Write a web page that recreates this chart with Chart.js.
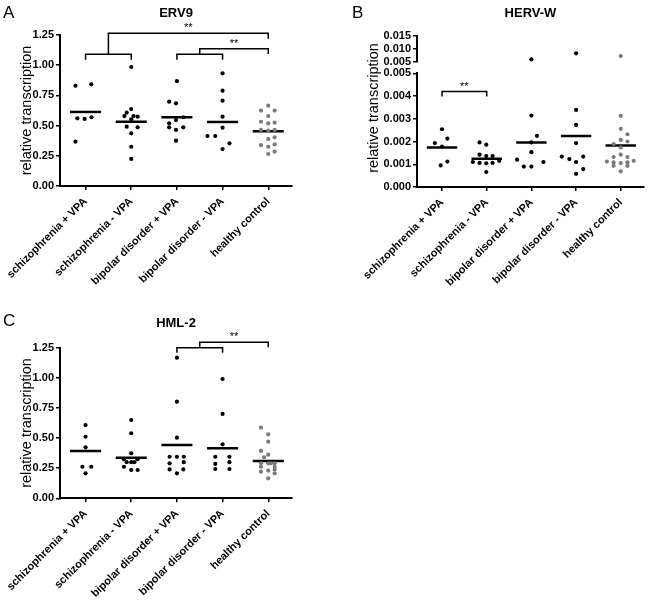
<!DOCTYPE html>
<html>
<head>
<meta charset="utf-8">
<script src="https://cdn.jsdelivr.net/npm/chart.js@4.4.0/dist/chart.umd.min.js"></script>
<style>
  body { margin: 0; background: #fff; }
  #wrap { position: relative; width: 648px; height: 604px; font-family: 'Liberation Sans', Arial, sans-serif; }
  canvas { position: absolute; }
  .letter { position: absolute; font-size: 17px; color: #000; }
</style>
</head>
<body>
<div id="wrap">
  <canvas id="chart-a" width="320" height="300" style="left:0;top:0"></canvas>
  <canvas id="chart-b" width="318" height="300" style="left:330px;top:0"></canvas>
  <canvas id="chart-c" width="320" height="300" style="left:0;top:304px"></canvas>
  <div class="letter" style="left:3px;top:3px">A</div>
  <div class="letter" style="left:352px;top:3px">B</div>
  <div class="letter" style="left:3px;top:311px">C</div>
</div>
<script>
const categories = ['schizophrenia + VPA', 'schizophrenia - VPA', 'bipolar disorder + VPA', 'bipolar disorder - VPA', 'healthy control'];
const controlIndex = 4;

// panel A - ERV9
const erv9Values = [
  [0.830, 0.842, 0.560, 0.555, 0.569, 0.367],
  [0.985, 0.637, 0.607, 0.579, 0.579, 0.574, 0.552, 0.491, 0.486, 0.436, 0.325, 0.224],
  [0.868, 0.698, 0.684, 0.569, 0.546, 0.519, 0.486, 0.486, 0.464, 0.375],
  [0.933, 0.789, 0.706, 0.574, 0.483, 0.414, 0.414, 0.353, 0.306],
  [0.665, 0.624, 0.624, 0.579, 0.532, 0.519, 0.524, 0.464, 0.458, 0.464, 0.389, 0.403, 0.339, 0.325, 0.345, 0.284, 0.265]
];
const erv9Jitter = [
  [-0.22, 0.125, -0.18, -0.02, 0.13, -0.22],
  [0, 0, -0.1, -0.15, 0.05, 0.14, 0, -0.1, 0.14, 0, 0, 0],
  [0, -0.17, -0.02, 0.14, -0.02, -0.17, -0.17, 0.14, -0.02, -0.02],
  [0, 0, 0, 0, 0, -0.33, -0.16, 0.15, 0],
  [0, -0.16, 0.14, 0, -0.16, 0, 0.14, -0.16, 0, 0.14, 0, 0.14, -0.16, 0, 0.14, 0.14, 0]
];
const erv9Means = [0.613, 0.532, 0.569, 0.530, 0.453];
const erv9Ticks = [0, 0.25, 0.5, 0.75, 1.0, 1.25];
const erv9Tests = [
  {left: [0, 1], right: 4, inner: 1.09, outer: 1.264, label: '**'},
  {left: [2, 3], right: 4, inner: 1.09, outer: 1.137, label: '**'}
];

// panel B - HERV-W (axis broken at 0.005)
const hervValues = [
  [0.00254, 0.00193, 0.00213, 0.00178, 0.00112, 0.00095],
  [0.00196, 0.00186, 0.00142, 0.00136, 0.00136, 0.00110, 0.00106, 0.00104, 0.00106, 0.00115, 0.00066],
  [0.00603, 0.00314, 0.00225, 0.00196, 0.00153, 0.00120, 0.00110, 0.00090, 0.00090],
  [0.0083, 0.00339, 0.00273, 0.00193, 0.00134, 0.00123, 0.00134, 0.00110, 0.00079, 0.00058],
  [0.00728, 0.00313, 0.00256, 0.00232, 0.00207, 0.00200, 0.00189, 0.00174, 0.00142, 0.00132, 0.00132, 0.00112, 0.00108, 0.00105, 0.00108, 0.00115, 0.00093, 0.00093, 0.00069]
];
const hervJitter = [
  [0, -0.16, 0.12, 0, 0.12, -0.03],
  [-0.16, -0.01, -0.16, -0.01, 0.13, -0.31, -0.16, -0.01, 0.13, 0.28, -0.01],
  [0, 0, 0.125, 0, 0, -0.32, 0.27, -0.17, 0],
  [0, 0, 0, 0, -0.32, -0.15, 0.16, 0, 0.16, 0],
  [0, 0, 0, 0.15, 0, 0.15, -0.16, 0, 0, -0.16, 0.15, -0.31, -0.16, 0, 0.15, 0.29, -0.16, 0.15, 0]
];
const hervMeans = [0.00174, 0.00124, 0.00196, 0.00224, 0.00182];
const hervTicks = [0, 0.001, 0.002, 0.003, 0.004, 0.005];
const hervTopTicks = [0.005, 0.010, 0.015];
const hervTests = [
  {left: [0], right: 1, outer: 0.0042, label: '**'}
];

// panel C - HML-2
const hml2Values = [
  [0.608, 0.511, 0.423, 0.262, 0.262, 0.207],
  [0.65, 0.54, 0.374, 0.324, 0.324, 0.30, 0.30, 0.30, 0.262, 0.235, 0.235],
  [1.167, 0.802, 0.503, 0.345, 0.345, 0.345, 0.29, 0.30, 0.24, 0.24, 0.207],
  [0.99, 0.70, 0.448, 0.345, 0.345, 0.30, 0.285, 0.243, 0.243],
  [0.586, 0.531, 0.47, 0.393, 0.362, 0.34, 0.29, 0.29, 0.29, 0.29, 0.262, 0.262, 0.221, 0.229, 0.24, 0.207, 0.166]
];
const hml2Jitter = [
  [0, 0, 0, -0.07, 0.125, 0],
  [0, 0, 0, -0.16, 0.14, -0.1, 0, 0.07, -0.16, 0, 0.14],
  [0, 0, 0, -0.16, 0, 0.15, -0.16, 0.15, -0.16, 0.14, 0],
  [0, 0, 0, -0.16, 0.15, 0.15, -0.16, -0.16, 0.15],
  [-0.16, 0, 0, -0.16, 0, -0.09, -0.16, 0, 0.06, 0.14, -0.16, 0.14, -0.16, 0, 0.14, 0.14, 0]
];
const hml2Means = [0.393, 0.337, 0.443, 0.415, 0.31];
const hml2Ticks = [0, 0.25, 0.5, 0.75, 1.0, 1.25];
const hml2Tests = [
  {left: [2, 3], right: 4, inner: 1.25, outer: 1.295, label: '**'}
];

const FONT = "'Liberation Sans', Arial, sans-serif";
Chart.defaults.font.family = FONT;
Chart.defaults.color = '#000';

// brackets of the significance tests, in data units
function bracketLines(tests, drop) {
  let sets = [];
  tests.forEach(function(t) {
    let start;
    if (t.left.length === 2) {
      let a = t.left[0], b = t.left[1];
      sets.push([{x: a, y: t.inner - drop}, {x: a, y: t.inner}, {x: b, y: t.inner}, {x: b, y: t.inner - drop}]);
      start = [{x: (a + b) / 2, y: t.inner}, {x: (a + b) / 2, y: t.outer}];
    } else {
      start = [{x: t.left[0], y: t.outer - drop}, {x: t.left[0], y: t.outer}];
    }
    sets.push(start.concat([{x: t.right, y: t.outer}, {x: t.right, y: t.outer - drop}]));
  });
  return sets;
}

// draws the ** of each test above its bracket
const starsPlugin = {
  id: 'stars',
  afterDatasetsDraw(chart, args, opts) {
    let ctx = chart.ctx;
    ctx.save();
    ctx.font = '11px ' + FONT;
    ctx.fillStyle = '#000';
    ctx.textAlign = 'center';
    ctx.textBaseline = 'middle';
    (opts.tests || []).forEach(function(t) {
      let from = t.left.length === 2 ? (t.left[0] + t.left[1]) / 2 : t.left[0];
      let x = chart.scales.x.getPixelForValue((from + t.right) / 2);
      let y = chart.scales.y.getPixelForValue(t.outer) - opts.lift;
      ctx.fillText(t.label, x, y);
    });
    ctx.restore();
  }
};

// y title spanning both halves of a broken axis
const spanTitlePlugin = {
  id: 'spanTitle',
  afterDraw(chart, args, opts) {
    if (!opts.text) return;
    let ctx = chart.ctx;
    ctx.save();
    ctx.translate(opts.x, opts.y);
    ctx.rotate(-Math.PI / 2);
    ctx.font = '14.5px ' + FONT;
    ctx.fillStyle = '#000';
    ctx.textAlign = 'center';
    ctx.textBaseline = 'middle';
    ctx.fillText(opts.text, 0, 0);
    ctx.restore();
  }
};

const axisLine = {color: '#000', width: 2};
const tickMarks = {drawOnChartArea: false, drawTicks: true, tickLength: 4, color: '#000', lineWidth: 1.5};
const tickFont = {size: 11, weight: 'bold'};

function yScale(ticks, digits, width, extra) {
  return Object.assign({
    type: 'linear',
    min: ticks[0],
    max: ticks[ticks.length - 1],
    border: axisLine,
    grid: tickMarks,
    ticks: {autoSkip: false, font: tickFont, color: '#000', padding: 2, callback: v => v.toFixed(digits)},
    afterBuildTicks: s => { s.ticks = ticks.map(v => ({value: v})); },
    afterFit: s => { s.width = width; }
  }, extra || {});
}

function makePanel(id, p) {
  let datasets = [];
  p.values.forEach(function(vals, i) {
    let color = i === controlIndex ? '#7b7b7b' : '#000';
    let low = [], high = [];
    vals.forEach(function(v, k) {
      let pt = {x: i + p.jitter[i][k], y: v};
      if (p.breakAt && v > p.breakAt) high.push(pt); else low.push(pt);
    });
    datasets.push({data: low, yAxisID: 'y', backgroundColor: color, pointRadius: 2.1, borderWidth: 0});
    if (high.length) {
      datasets.push({data: high, yAxisID: 'yTop', backgroundColor: color, pointRadius: 2.1, borderWidth: 0});
    }
  });
  p.means.forEach(function(m, i) {
    datasets.push({data: [{x: i - 0.34, y: m}, {x: i + 0.34, y: m}], yAxisID: 'y', showLine: true,
      borderColor: '#000', borderWidth: 2.5, pointRadius: 0});
  });
  bracketLines(p.tests, p.drop).forEach(function(pts) {
    datasets.push({data: pts, yAxisID: 'y', showLine: true, borderColor: '#000', borderWidth: 1.5,
      pointRadius: 0, clip: false, tension: 0});
  });

  let scales = {
    x: {
      type: 'linear',
      min: -0.56,
      max: 4.52,
      border: axisLine,
      grid: tickMarks,
      ticks: {autoSkip: false, minRotation: 45, maxRotation: 45, font: tickFont, color: '#000', padding: 5,
        callback: v => categories[v]},
      afterBuildTicks: s => { s.ticks = categories.map((c, i) => ({value: i})); },
      afterFit: s => { s.height = p.xHeight; s.paddingLeft = 0; s.paddingRight = 0; }
    },
    y: yScale(p.ticks, p.digits, p.yWidth, p.yExtra)
  };
  if (p.topTicks) {
    scales.yGap = {stack: 'herv', stackWeight: p.gapWeight, min: 0, max: 1, border: {display: false},
      grid: {display: false}, ticks: {display: false}, afterFit: s => { s.width = p.yWidth; }};
    scales.yTop = yScale(p.topTicks, p.digits, p.yWidth, {stack: 'herv', stackWeight: p.topWeight});
  }

  return new Chart(document.getElementById(id), {
    type: 'scatter',
    data: {datasets: datasets},
    options: {
      responsive: false,
      animation: false,
      events: [],
      devicePixelRatio: 1,
      layout: {padding: {left: 0, right: p.padRight, top: 0, bottom: 0}},
      scales: scales,
      plugins: {
        legend: {display: false},
        tooltip: {enabled: false},
        title: {display: true, text: p.title, fullSize: false, color: '#000',
          font: {size: 13, weight: 'bold'}, padding: p.titlePad},
        stars: {tests: p.tests, lift: p.starLift},
        spanTitle: p.spanTitle || {}
      }
    },
    plugins: [starsPlugin, spanTitlePlugin]
  });
}

const yTitle = {display: true, text: 'relative transcription', color: '#000', font: {size: 14.5},
  padding: {top: 18, bottom: 0}};

makePanel('chart-a', {
  title: 'ERV9', values: erv9Values, jitter: erv9Jitter, means: erv9Means, ticks: erv9Ticks, digits: 2,
  tests: erv9Tests, drop: 0.045, starLift: 5, yWidth: 60, xHeight: 114, padRight: 28,
  titlePad: {top: 6, bottom: 13.4}, yExtra: {title: yTitle}
});

makePanel('chart-b', {
  title: 'HERV-W', values: hervValues, jitter: hervJitter, means: hervMeans, ticks: hervTicks, digits: 3,
  topTicks: hervTopTicks, breakAt: 0.005, tests: hervTests, drop: 0.00022, starLift: 5,
  yWidth: 87, xHeight: 113, padRight: 3, titlePad: {top: 6, bottom: 14.1},
  gapWeight: 11.3, topWeight: 26.3, yExtra: {stack: 'herv', stackWeight: 113.7},
  spanTitle: {text: 'relative transcription', x: 44, y: 108}
});

makePanel('chart-c', {
  title: 'HML-2', values: hml2Values, jitter: hml2Jitter, means: hml2Means, ticks: hml2Ticks, digits: 2,
  tests: hml2Tests, drop: 0.042, starLift: 5, yWidth: 60, xHeight: 105.7, padRight: 28,
  titlePad: {top: 11.2, bottom: 16.9}, yExtra: {title: yTitle}
});
</script>
</body>
</html>
